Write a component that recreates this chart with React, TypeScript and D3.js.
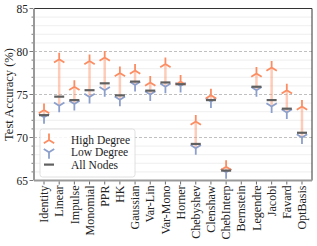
import React from 'react';
import * as d3 from 'd3';

// test accuracy per filter
const methods = ['Identity', 'Linear', 'Impulse', 'Monomial', 'PPR', 'HK', 'Gaussian', 'Var-Lin', 'Var-Mono',
  'Horner', 'Chebyshev', 'Clenshaw', 'ChebInterp', 'Bernstein', 'Legendre', 'Jacobi', 'Favard', 'OptBasis'];
const highDegree = [73.2, 79.1, 75.9, 78.9, 79.3, 77.5, 77.8, 76.4, 78.55, 76.5, 71.85, 74.9, 66.6, null, 77.45, 78.15, 75.5, 73.6];
const lowDegree = [72.35, 73.7, 73.9, 74.7, 75.5, 74.4, 76.1, 75.0, 75.9, 76.0, 68.75, 74.2, 65.95, null, 75.5, 73.6, 72.9, 70.0];
const allNodes = [72.6, 74.75, 74.35, 75.5, 76.3, 74.9, 76.5, 75.45, 76.4, 76.2, 69.25, 74.35, 66.15, null, 75.9, 74.35, 73.35, 70.55];
const legendLabels = ['High Degree', 'Low Degree', 'All Nodes'];
const yTicks = [65, 70, 75, 80, 85];
const minorTicks = d3.range(65, 86, 1);

const W = 317, H = 246;
const M = { left: 34, right: 5, top: 8.5, bottom: 65.5 };
const ORANGE = '#fc8d62', BLUE = '#8da0cb', GRAY = '#606060';
const FONT = '"Liberation Serif", serif';

const x = d3.scalePoint<string>().domain(methods).range([M.left, W - M.right]).padding(0.66);
const y = d3.scaleLinear().domain([65, 85]).range([H - M.bottom, M.top]);

const R = 6.5;
const triUp = (cx: number, cy: number) =>
  `M${cx},${cy}V${cy - R}M${cx},${cy}L${cx - 0.8 * R},${cy + 0.5 * R}M${cx},${cy}L${cx + 0.8 * R},${cy + 0.5 * R}`;
const triDown = (cx: number, cy: number) =>
  `M${cx},${cy}V${cy + R}M${cx},${cy}L${cx - 0.8 * R},${cy - 0.5 * R}M${cx},${cy}L${cx + 0.8 * R},${cy - 0.5 * R}`;

const App = () => {
  const x0 = M.left, x1 = W - M.right, yb = H - M.bottom;
  const legY = (i: number) => 140 + i * 12.3;
  return (
    <svg width={W} height={H} style={{ position: 'absolute', left: 0, top: 0, background: '#fff' }} fontFamily={FONT}>
      {/* minor grid */}
      {minorTicks.filter(t => t % 5 !== 0).map(t => (
        <line key={'mg' + t} x1={x0} x2={x1} y1={y(t)} y2={y(t)} stroke="#ebebeb" strokeWidth={0.8} />
      ))}
      {yTicks.filter(t => t > 65 && t < 85).map(t => (
        <line key={'g' + t} x1={x0} x2={x1} y1={y(t)} y2={y(t)} stroke="#b0b0b0" strokeWidth={0.8} strokeDasharray="3,2" />
      ))}

      {/* connecting lines */}
      {methods.map((m, i) => highDegree[i] == null ? null : (
        <line key={'c' + m} x1={x(m)} x2={x(m)} y1={y(lowDegree[i]!)} y2={y(highDegree[i]!)}
          stroke={ORANGE} strokeOpacity={0.45} strokeWidth={2.5} />
      ))}
      {methods.map((m, i) => lowDegree[i] == null ? null : (
        <path key={'l' + m} d={triDown(x(m)!, y(lowDegree[i]!))} stroke={BLUE} strokeWidth={1.8} fill="none" />
      ))}
      {methods.map((m, i) => highDegree[i] == null ? null : (
        <path key={'h' + m} d={triUp(x(m)!, y(highDegree[i]!))} stroke={ORANGE} strokeWidth={1.8} fill="none" />
      ))}
      {methods.map((m, i) => allNodes[i] == null ? null : (
        <line key={'a' + m} x1={x(m)! - 5} x2={x(m)! + 5} y1={y(allNodes[i]!)} y2={y(allNodes[i]!)} stroke={GRAY} strokeWidth={2.2} />
      ))}

      {/* spines */}
      <line x1={x0} x2={x1} y1={M.top} y2={M.top} stroke="#333" strokeWidth={1} />
      <line x1={x1} x2={x1} y1={M.top} y2={yb} stroke="#333" strokeWidth={1} />
      <line x1={x0} x2={x0} y1={M.top} y2={yb} stroke="#999" strokeWidth={2} />
      <line x1={x0} x2={x1} y1={yb} y2={yb} stroke="#999" strokeWidth={2} />

      {/* y axis */}
      {minorTicks.map(t => (
        <line key={'mt' + t} x1={x0 - 1} x2={x0 - (t % 5 === 0 ? 4.5 : 2.5)} y1={y(t)} y2={y(t)} stroke="#444" strokeWidth={0.7} />
      ))}
      {yTicks.map(t => (
        <text key={'yt' + t} x={x0 - 6} y={y(t)} dy="0.35em" textAnchor="end" fontSize={11.5} fill="#222">{t}</text>
      ))}
      <text transform={`translate(13,${(M.top + yb) / 2}) rotate(-90)`} textAnchor="middle" fontSize={12.5} fill="#222">
        Test Accuracy (%)
      </text>

      {/* x axis */}
      {methods.map(m => (
        <g key={'xt' + m}>
          <line x1={x(m)} x2={x(m)} y1={yb + 1} y2={yb + 4} stroke="#444" strokeWidth={0.8} />
          <text transform={`translate(${x(m)},${yb + 5}) rotate(-90)`} dy="0.35em" textAnchor="end" fontSize={12} fill="#222">{m}</text>
        </g>
      ))}

      {/* legend */}
      <rect x={40} y={129} width={95} height={48} rx={2.5} fill="#fff" fillOpacity={0.85} stroke="#d8d8d8" strokeWidth={0.8} />
      <path d={triUp(49, legY(0))} stroke={ORANGE} strokeWidth={1.8} fill="none" />
      <path d={triDown(49, legY(1))} stroke={BLUE} strokeWidth={1.8} fill="none" />
      <line x1={44} x2={54} y1={legY(2)} y2={legY(2)} stroke={GRAY} strokeWidth={2.2} />
      {legendLabels.map((t, i) => (
        <text key={t} x={71} y={legY(i)} dy="0.35em" fontSize={11.5} fill="#222">{t}</text>
      ))}
    </svg>
  );
};

export default App;
